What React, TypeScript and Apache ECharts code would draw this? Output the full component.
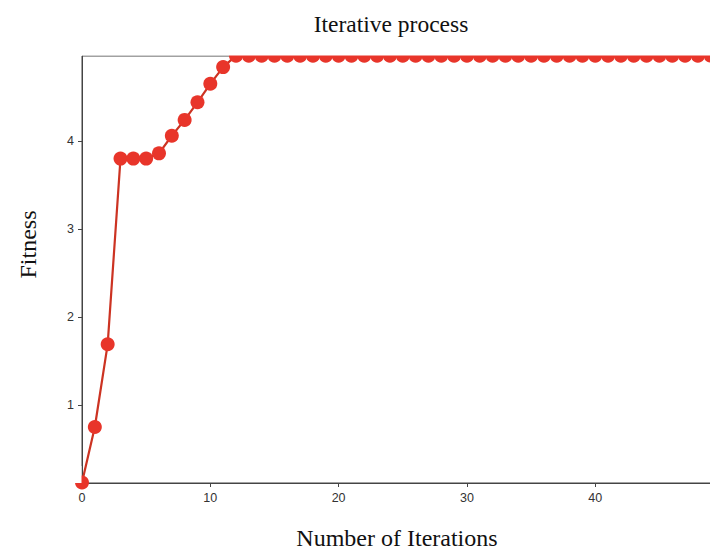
import React, { useEffect, useRef } from "react";
import * as echarts from "echarts";

const iterations: number[] = [
  0, 1, 2, 3, 4, 5, 6, 7, 8, 9, 10, 11, 12, 13, 14, 15, 16, 17, 18, 19, 20, 21, 22, 23, 24,
  25, 26, 27, 28, 29, 30, 31, 32, 33, 34, 35, 36, 37, 38, 39, 40, 41, 42, 43, 44, 45, 46, 47, 48, 49,
];
const fitness: number[] = [
  0.12, 0.75, 1.69, 3.8, 3.8, 3.8, 3.86, 4.06, 4.24, 4.44, 4.65, 4.84, 4.97, 4.97, 4.97, 4.97, 4.97,
  4.97, 4.97, 4.97, 4.97, 4.97, 4.97, 4.97, 4.97, 4.97, 4.97, 4.97, 4.97, 4.97, 4.97, 4.97, 4.97, 4.97,
  4.97, 4.97, 4.97, 4.97, 4.97, 4.97, 4.97, 4.97, 4.97, 4.97, 4.97, 4.97, 4.97, 4.97, 4.97, 4.97,
];

export default function App() {
  const ref = useRef<HTMLDivElement>(null);
  useEffect(() => {
    if (!ref.current) return;
    const chart = echarts.init(ref.current, null, { renderer: "svg" });
    const serif = "'Liberation Serif', 'DejaVu Serif', serif";
    const sans = "'Liberation Sans', Arial, sans-serif";
    chart.setOption({
      animation: false,
      backgroundColor: "#ffffff",
      title: {
        text: "Iterative process",
        left: 386,
        textAlign: "center",
        top: 7,
        textStyle: { fontFamily: serif, fontSize: 23.5, fontWeight: "normal", color: "#111" },
      },
      grid: {
        left: 82,
        right: -2,
        top: 56,
        bottom: 69,
        show: true,
        borderColor: "#444",
        borderWidth: 1,
        outerBoundsMode: "none",
        containLabel: false,
      },
      graphic: [
        {
          type: "rect",
          left: 0,
          top: 38,
          shape: { width: 710, height: 17.5 },
          style: { fill: "#ffffff" },
          z: 100,
        },
        {
          type: "rect",
          left: 66,
          top: 466,
          shape: { width: 15.5, height: 17 },
          style: { fill: "#ffffff" },
          z: 100,
        },
      ],
      xAxis: {
        type: "value",
        min: 0,
        max: 49.1,
        interval: 10,
        name: "Number of Iterations",
        nameLocation: "middle",
        nameGap: 43,
        nameTextStyle: { fontFamily: serif, fontSize: 24, color: "#111" },
        axisLine: { show: true, lineStyle: { color: "#444", width: 1 } },
        axisTick: { show: true, length: 4, lineStyle: { color: "#444" } },
        axisLabel: {
          fontFamily: sans,
          fontSize: 12.5,
          color: "#333",
          margin: 8,
          showMaxLabel: false,
        },
        splitLine: { show: false },
      },
      yAxis: {
        type: "value",
        min: 0.114,
        max: 4.966,
        splitNumber: 5,
        name: "Fitness",
        nameLocation: "middle",
        nameGap: 42,
        nameRotate: 90,
        nameTextStyle: { fontFamily: serif, fontSize: 24, color: "#111", padding: [0, 0, 0, 50] },
        axisLine: { show: true, lineStyle: { color: "#444", width: 1 } },
        axisTick: { show: true, length: 4, lineStyle: { color: "#444" } },
        axisLabel: {
          fontFamily: sans,
          fontSize: 12.5,
          color: "#333",
          margin: 8,
          showMinLabel: false,
          showMaxLabel: false,
        },
        splitLine: { show: false },
      },
      series: [
        {
          type: "line",
          data: iterations.map((x, i) => [x, fitness[i]]),
          symbol: "circle",
          symbolSize: 14,
          clip: false,
          lineStyle: { color: "#cc3322", width: 2.2 },
          itemStyle: { color: "#e8352a" },
        },
      ],
    });
    return () => chart.dispose();
  }, []);
  return (
    <div
      ref={ref}
      style={{ position: "fixed", left: 0, top: 0, width: 710, height: 552 }}
    />
  );
}
